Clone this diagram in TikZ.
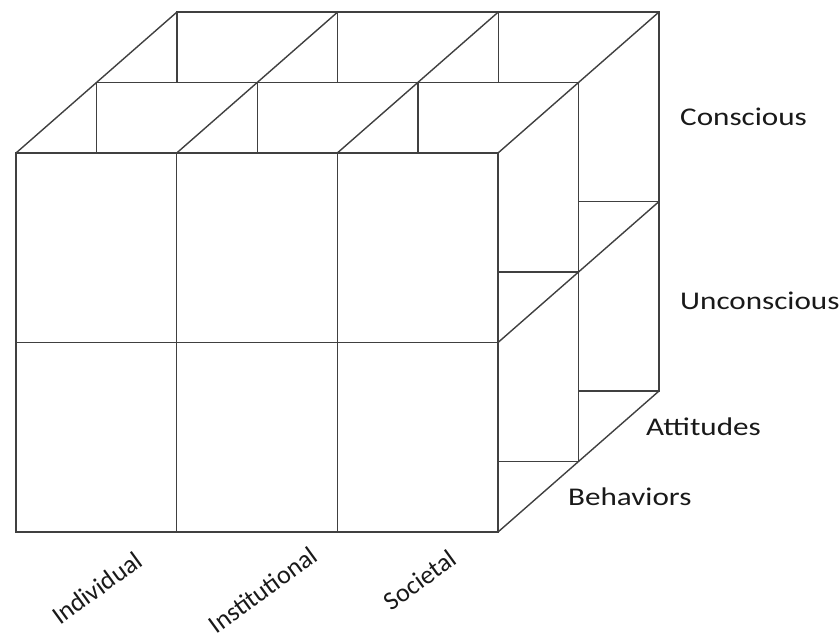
\documentclass[tikz,border=0pt]{standalone}
\usepackage{fontspec}
\newfontfamily\labfont[FakeStretch=1.22]{Carlito}
\newfontfamily\dimfont{Carlito}
\usetikzlibrary{positioning,calc}

\begin{document}
\begin{tikzpicture}[x=1pt,y=-1pt,
    wall/.style={draw=black!75, line width=1.4pt, fill=white},
    ed/.style={draw=black!75, line width=1.4pt},
    lf/.style={font=\labfont\fontsize{25.5}{30}\selectfont, text=black!90,
               inner sep=0pt},
    dim/.style={font=\dimfont\fontsize{26}{30}\selectfont, text=black!90,
                inner sep=0pt, rotate=36}
  ]
  \useasboundingbox (0,0) rectangle (840,641);
  % three slices, back one first
  \foreach \k in {2,1,0}{
    \begin{scope}[shift={(80.5*\k,-70.5*\k)}]
      \path[wall] (16,153) rectangle (498,532);
      \draw[ed] (176.7,153) -- (176.7,532) (337.3,153) -- (337.3,532)
                (16,342.5) -- (498,342.5);
    \end{scope}
  }
  % depth edges
  \foreach \n/\p in {a/{16,153}, b/{176.7,153}, c/{337.3,153}, d/{498,153},
                     e/{498,342.5}, f/{498,532}}{
    \coordinate (\n0) at (\p);
    \coordinate (\n2) at ($(\n0)+(161,-141)$);
    \draw[ed] (\n0) -- (\n2);
  }
  \node[lf, anchor=base west] (cons)   at (680,125) {Conscious};
  \node[lf, anchor=base west] (uncons) at (680,309) {Unconscious};
  \node[lf, anchor=base west] (att)    at (646,435) {Attitudes};
  \node[lf, anchor=base west] (beh)    at (568,505) {Behaviors};
  \node[dim] (indiv) at (97,588)  {Individual};
  \node[dim] (inst)  at (263,590) {Institutional};
  \node[dim] (soc)   at (420,580) {Societal};
\end{tikzpicture}
\end{document}
